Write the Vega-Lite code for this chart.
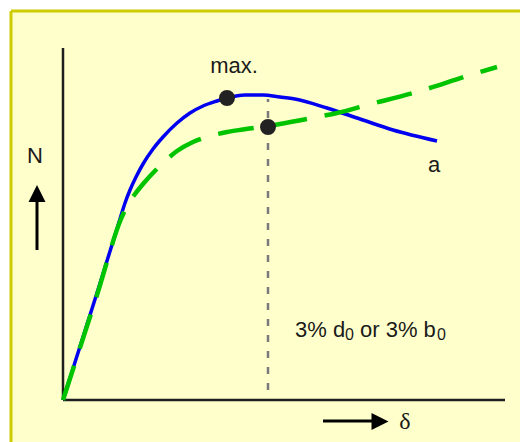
{
  "$schema": "https://vega.github.io/schema/vega-lite/v6.json",
  "width": 509,
  "height": 431,
  "autosize": "none",
  "padding": {"left": 11, "top": 11, "right": 0, "bottom": 0},
  "background": "#ffffff",
  "config": {"view": {"fill": "#FFFFCC", "stroke": null}},
  "datasets": {
    "border": [
      {"x": -52, "y": -42, "x2": -52, "y2": 389},
      {"x": -52, "y": 389, "x2": 457, "y2": 389}
    ],
    "axes": [
      {"x": 0, "y": 0, "x2": 0, "y2": 352},
      {"x": 0, "y": 0, "x2": 442, "y2": 0}
    ],
    "guide": [
      {"x": 205, "y": 10, "x2": 205, "y2": 301}
    ],
    "blue": [
      {"x": 0, "y": 0},
      {"x": 34, "y": 107},
      {"x": 57, "y": 181},
      {"x": 62, "y": 197},
      {"x": 67, "y": 210},
      {"x": 73, "y": 223},
      {"x": 80, "y": 236},
      {"x": 90, "y": 251},
      {"x": 100, "y": 263},
      {"x": 114, "y": 277},
      {"x": 127, "y": 287},
      {"x": 140, "y": 294},
      {"x": 154, "y": 299},
      {"x": 164, "y": 302},
      {"x": 182, "y": 305},
      {"x": 200, "y": 305},
      {"x": 217, "y": 303},
      {"x": 232, "y": 301},
      {"x": 264, "y": 292},
      {"x": 297, "y": 281},
      {"x": 330, "y": 270},
      {"x": 374, "y": 259}
    ],
    "green": [
      {"x": 0, "y": 0},
      {"x": 34, "y": 105},
      {"x": 58, "y": 181},
      {"x": 65, "y": 196},
      {"x": 72, "y": 206},
      {"x": 80, "y": 216},
      {"x": 100, "y": 237},
      {"x": 114, "y": 249},
      {"x": 130, "y": 258},
      {"x": 147, "y": 264},
      {"x": 164, "y": 268},
      {"x": 180, "y": 270.5},
      {"x": 205, "y": 274},
      {"x": 217, "y": 276},
      {"x": 254, "y": 283},
      {"x": 274, "y": 287},
      {"x": 304, "y": 295},
      {"x": 357, "y": 309},
      {"x": 407, "y": 325},
      {"x": 434, "y": 333}
    ],
    "markers": [
      {"x": 164, "y": 302},
      {"x": 205, "y": 273}
    ],
    "labels": [
      {"x": 171, "y": 327, "text": "max."},
      {"x": 371, "y": 228, "text": "a"},
      {"x": -28, "y": 237, "text": "N"}
    ],
    "mainText": [
      {"x": 232, "y": 63, "text": "3% d"},
      {"x": 297, "y": 63, "text": "or 3% b"}
    ],
    "subText": [
      {"x": 282, "y": 60, "text": "0"},
      {"x": 374, "y": 60, "text": "0"}
    ],
    "delta": [
      {"x": 342, "y": -29, "text": "δ"}
    ],
    "shafts": [
      {"x": -26, "y": 150, "x2": -26, "y2": 200},
      {"x": 260, "y": -21, "x2": 311, "y2": -21}
    ],
    "headUp": [
      {"x": -26, "y": 206.5}
    ],
    "headRight": [
      {"x": 317, "y": -21.5}
    ]
  },
  "encoding": {
    "x": {"field": "x", "type": "quantitative", "scale": {"domain": [-52, 457], "nice": false, "zero": false}, "axis": null},
    "y": {"field": "y", "type": "quantitative", "scale": {"domain": [-42, 389], "nice": false, "zero": false}, "axis": null}
  },
  "layer": [
    {
      "data": {"name": "border"},
      "mark": {"type": "rule", "color": "#CCCC00", "strokeWidth": 3},
      "encoding": {"x2": {"field": "x2"}, "y2": {"field": "y2"}}
    },
    {
      "data": {"name": "axes"},
      "mark": {"type": "rule", "color": "#1e1e1e", "strokeWidth": 2.5},
      "encoding": {"x2": {"field": "x2"}, "y2": {"field": "y2"}}
    },
    {
      "data": {"name": "guide"},
      "mark": {"type": "rule", "color": "#7a7a7a", "strokeWidth": 2.5, "strokeDash": [7, 9]},
      "encoding": {"x2": {"field": "x2"}, "y2": {"field": "y2"}}
    },
    {
      "data": {"name": "blue"},
      "mark": {"type": "line", "color": "#0000F0", "strokeWidth": 3.5, "interpolate": "monotone"},
      "encoding": {"order": {"field": "x", "type": "quantitative"}}
    },
    {
      "data": {"name": "green"},
      "mark": {"type": "line", "color": "#00C400", "strokeWidth": 4.5, "strokeDash": [36, 18], "interpolate": "monotone"},
      "encoding": {"order": {"field": "x", "type": "quantitative"}}
    },
    {
      "data": {"name": "markers"},
      "mark": {"type": "point", "shape": "circle", "filled": true, "size": 254, "color": "#222222", "opacity": 1}
    },
    {
      "data": {"name": "labels"},
      "mark": {"type": "text", "font": "Liberation Sans", "fontSize": 22, "color": "#1a1a1a", "align": "center", "baseline": "alphabetic"},
      "encoding": {"text": {"field": "text"}}
    },
    {
      "data": {"name": "mainText"},
      "mark": {"type": "text", "font": "Liberation Sans", "fontSize": 22, "color": "#1a1a1a", "align": "left", "baseline": "alphabetic"},
      "encoding": {"text": {"field": "text"}}
    },
    {
      "data": {"name": "subText"},
      "mark": {"type": "text", "font": "Liberation Sans", "fontSize": 16, "color": "#1a1a1a", "align": "left", "baseline": "alphabetic"},
      "encoding": {"text": {"field": "text"}}
    },
    {
      "data": {"name": "delta"},
      "mark": {"type": "text", "font": "Liberation Serif", "fontSize": 24, "color": "#1a1a1a", "align": "center", "baseline": "alphabetic"},
      "encoding": {"text": {"field": "text"}}
    },
    {
      "data": {"name": "shafts"},
      "mark": {"type": "rule", "color": "#000000", "strokeWidth": 3},
      "encoding": {"x2": {"field": "x2"}, "y2": {"field": "y2"}}
    },
    {
      "data": {"name": "headUp"},
      "mark": {"type": "point", "shape": "M0,-1L1,1L-1,1Z", "filled": true, "size": 289, "color": "#000000", "opacity": 1}
    },
    {
      "data": {"name": "headRight"},
      "mark": {"type": "point", "shape": "M1,0L-1,-1L-1,1Z", "filled": true, "size": 289, "color": "#000000", "opacity": 1}
    }
  ]
}
